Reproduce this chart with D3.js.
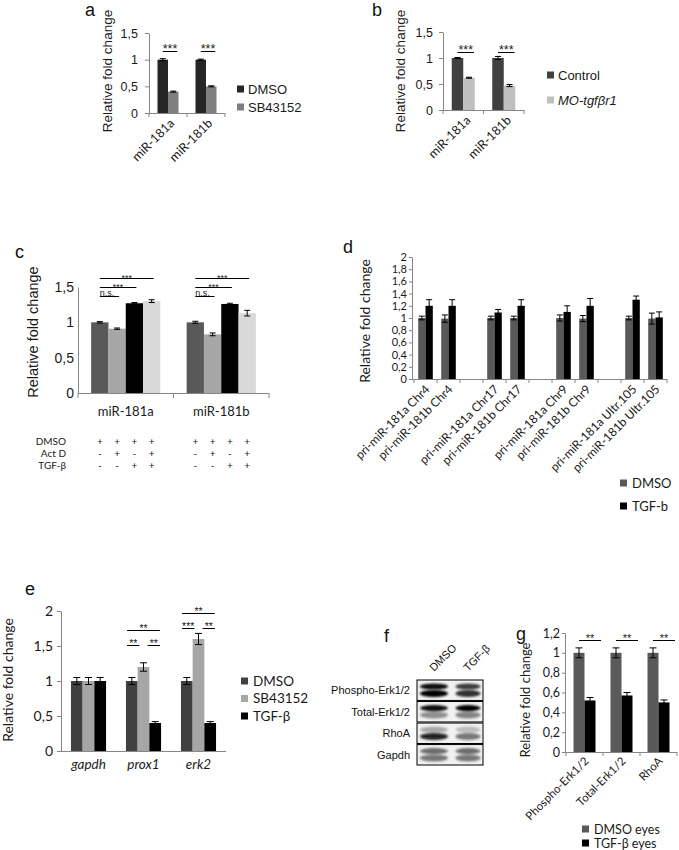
<!DOCTYPE html>
<html><head><meta charset="utf-8">
<script src="https://cdn.jsdelivr.net/npm/d3@7"></script>
<style>body{margin:0;background:#fff} svg{display:block}</style>
</head><body>
<svg id="fig" width="679" height="850"></svg>
<script>
// ---------------- data ----------------
const aCategories = ["miR-181a", "miR-181b"];
const aSeriesNames = ["DMSO", "SB43152"];
const aDMSO = [1.00, 1.00];
const aDMSOErr = [0.02, 0.01];
const aSB = [0.40, 0.50];
const aSBErr = [0.01, 0.01];
const aTicks = [0, 0.5, 1, 1.5];
const aSig = [{cat: 0, from: 0, to: 1, y: 1.16, label: "***"}, {cat: 1, from: 0, to: 1, y: 1.16, label: "***"}];

const bCategories = ["miR-181a", "miR-181b"];
const bSeriesNames = ["Control", "MO-tgfβr1"];
const bControl = [1.00, 1.00];
const bControlErr = [0.01, 0.03];
const bMO = [0.62, 0.47];
const bMOErr = [0.01, 0.02];
const bTicks = [0, 0.5, 1, 1.5];
const bSig = [{cat: 0, from: 0, to: 1, y: 1.12, label: "***"}, {cat: 1, from: 0, to: 1, y: 1.12, label: "***"}];

const cCategories = ["miR-181a", "miR-181b"];
const cDMSO = [1.00, 1.00];
const cDMSOErr = [0.01, 0.015];
const cActD = [0.91, 0.83];
const cActDErr = [0.01, 0.02];
const cTGF = [1.27, 1.26];
const cTGFErr = [0.01, 0.01];
const cActDTGF = [1.30, 1.13];
const cActDTGFErr = [0.02, 0.04];
const cTicks = [0, 0.5, 1, 1.5];
const cSig = [
  {cat: 0, from: 0, to: 3, y: 1.634, label: "***"}, {cat: 0, from: 0, to: 2, y: 1.507, label: "***"}, {cat: 0, from: 0, to: 1, y: 1.366, label: "n.s."},
  {cat: 1, from: 0, to: 3, y: 1.634, label: "***"}, {cat: 1, from: 0, to: 2, y: 1.507, label: "***"}, {cat: 1, from: 0, to: 1, y: 1.366, label: "n.s."}
];
const cTableRows = ["DMSO", "Act D", "TGF-β"];
const cTableDMSO = ["+", "+", "+", "+"];
const cTableActD = ["-", "+", "-", "+"];
const cTableTGF = ["-", "-", "+", "+"];

const dCategories = ["pri-miR-181a Chr4", "pri-miR-181b Chr4", "", "pri-miR-181a Chr17", "pri-miR-181b Chr17", "",
  "pri-miR-181a Chr9", "pri-miR-181b Chr9", "", "pri-miR-181a Ultr.105", "pri-miR-181b Ultr.105"];
const dSeriesNames = ["DMSO", "TGF-b"];
const dDMSO = [1.00, 0.99, null, 1.00, 1.00, null, 1.00, 0.99, null, 1.00, 0.99];
const dDMSOErr = [0.03, 0.06, null, 0.03, 0.03, null, 0.05, 0.05, null, 0.03, 0.09];
const dTGF = [1.20, 1.20, null, 1.09, 1.20, null, 1.10, 1.20, null, 1.30, 1.01];
const dTGFErr = [0.10, 0.10, null, 0.05, 0.10, null, 0.10, 0.12, null, 0.06, 0.09];
const dTicks = [0, 0.2, 0.4, 0.6, 0.8, 1, 1.2, 1.4, 1.6, 1.8, 2];

const eCategories = ["gapdh", "prox1", "erk2"];
const eSeriesNames = ["DMSO", "SB43152", "TGF-β"];
const eDMSO = [1.00, 1.00, 1.00];
const eDMSOErr = [0.05, 0.05, 0.05];
const eSB = [1.00, 1.20, 1.60];
const eSBErr = [0.05, 0.06, 0.08];
const eTGF = [1.00, 0.40, 0.40];
const eTGFErr = [0.05, 0.02, 0.02];
const eTicks = [0, 0.5, 1, 1.5, 2];
const eSig = [
  {cat: 1, from: 0, to: 2, y: 1.73, label: "**"}, {cat: 1, from: 0, to: 1, y: 1.51, label: "**"}, {cat: 1, from: 1, to: 2, y: 1.51, label: "**"},
  {cat: 2, from: 0, to: 2, y: 1.97, label: "**"}, {cat: 2, from: 0, to: 1, y: 1.76, label: "***"}, {cat: 2, from: 1, to: 2, y: 1.76, label: "**"}
];

const fRows = ["Phospho-Erk1/2", "Total-Erk1/2", "RhoA", "Gapdh"];
const fLanes = ["DMSO", "TGF-β"];
const fUpperBand = [[0.95, 0.75], [0.95, 1.0], [0.30, 0.22], [0.55, 0.55]];
const fLowerBand = [[1.0, 0.80], [0.40, 0.45], [0.85, 0.50], [0.50, 0.50]];

const gCategories = ["Phospho-Erk1/2", "Total-Erk1/2", "RhoA"];
const gSeriesNames = ["DMSO eyes", "TGF-β eyes"];
const gDMSO = [1.00, 1.00, 1.00];
const gDMSOErr = [0.05, 0.05, 0.05];
const gTGF = [0.52, 0.57, 0.50];
const gTGFErr = [0.03, 0.03, 0.025];
const gTicks = [0, 0.2, 0.4, 0.6, 0.8, 1, 1.2];
const gSig = [{cat: 0, from: 0, to: 1, y: 1.13, label: "**"}, {cat: 1, from: 0, to: 1, y: 1.13, label: "**"}, {cat: 2, from: 0, to: 1, y: 1.13, label: "**"}];

// ---------------- drawing ----------------
const ARIAL = "'Liberation Sans', Arial, sans-serif";
const CALI = "Lato, 'Open Sans', sans-serif";
const AX = "#868686";
const svg = d3.select("#fig");
const fmt = d3.formatLocale({decimal: ",", thousands: ".", grouping: [3], currency: ["", ""]}).format("~g");

svg.append("defs").append("filter").attr("id", "blur").attr("x", "-50%").attr("y", "-100%").attr("width", "200%").attr("height", "300%")
  .append("feGaussianBlur").attr("stdDeviation", 1.3);

function drawBars(o) {
  const g = svg.append("g");
  const y = d3.scaleLinear().domain([0, d3.max(o.ticks)]).range([o.y0, o.yTop]);
  const x = d3.scaleBand().domain(d3.range(o.categories.length)).range(o.xr);
  const n = o.series.length;
  const cx = (ci, si) => x(ci) + x.bandwidth() / 2 + (si - (n - 1) / 2) * o.bw;

  o.series.forEach((s, si) => {
    const rows = s.values.map((v, i) => ({v, e: s.errs[i], i})).filter(d => d.v != null);
    g.append("g").selectAll("rect").data(rows).join("rect")
      .attr("x", d => cx(d.i, si) - o.bw / 2).attr("width", o.bw)
      .attr("y", d => y(d.v)).attr("height", d => y(0) - y(d.v))
      .attr("fill", s.color);
    g.append("g").attr("stroke", "#000").attr("stroke-width", 1).attr("fill", "none")
      .selectAll("path").data(rows).join("path")
      .attr("d", d => {
        const c = cx(d.i, si), t = y(d.v + d.e), b = y(d.v - d.e), h = o.cap / 2;
        return `M${c},${t}V${b}M${c - h},${t}H${c + h}M${c - h},${b}H${c + h}`;
      });
  });

  // y axis
  const ya = g.append("g").attr("transform", `translate(${o.yAxisX},0)`)
    .call(d3.axisLeft(y).tickValues(o.ticks).tickFormat(fmt).tickSize(o.yTickLen).tickSizeOuter(0).tickPadding(o.yPad));
  ya.select(".domain").attr("stroke", AX);
  ya.selectAll(".tick line").attr("stroke", AX);
  ya.selectAll(".tick text").attr("font-family", o.tickFont).attr("font-size", o.tickFs).attr("fill", "#1a1a1a");

  // x axis
  const bounds = d3.range(o.categories.length + 1).map(i => i < o.categories.length ? x(i) : o.xr[1]);
  g.append("line").attr("x1", o.yAxisX).attr("x2", o.xr[1]).attr("y1", o.y0 + 0.5).attr("y2", o.y0 + 0.5).attr("stroke", AX);
  g.append("g").selectAll("line").data(bounds).join("line")
    .attr("x1", d => d).attr("x2", d => d).attr("y1", o.y0).attr("y2", o.y0 + o.xTickLen).attr("stroke", AX);

  // x labels
  const labs = o.categories.map((c, i) => ({c, i})).filter(d => d.c);
  const lt = g.append("g").selectAll("text").data(labs).join("text")
    .attr("font-family", o.labFont).attr("font-size", o.labFs).attr("fill", "#1a1a1a")
    .attr("font-style", o.labItalic ? "italic" : null).text(d => d.c);
  if (o.rot) {
    lt.attr("text-anchor", "end").attr("dy", "0.35em")
      .attr("transform", d => `translate(${x(d.i) + x.bandwidth() / 2 + o.rotDx},${o.y0 + o.rotDy}) rotate(-45)`);
  } else {
    lt.attr("text-anchor", "middle").attr("x", d => x(d.i) + x.bandwidth() / 2).attr("y", o.y0 + o.flatDy);
  }

  // significance
  (o.sig || []).forEach(s => {
    const same = o.sig.filter(t => t !== s && t.cat === s.cat && t.y === s.y);
    const sharedL = same.some(t => t.to === s.from), sharedR = same.some(t => t.from === s.to);
    const x1 = cx(s.cat, s.from) + (sharedL ? o.sigIn : -o.sigL);
    const x2 = cx(s.cat, s.to) + (sharedR ? -o.sigIn : o.sigR);
    const ly = Math.round(y(s.y)) + 0.5;
    g.append("line").attr("x1", x1).attr("x2", x2).attr("y1", ly).attr("y2", ly).attr("stroke", "#000").attr("stroke-width", 1);
    const star = s.label.includes("*");
    g.append("text").attr("x", star ? (x1 + x2) / 2 : x1).attr("y", ly + (star ? o.starDy : o.nsDy))
      .attr("text-anchor", star ? "middle" : "start")
      .attr("font-family", ARIAL).attr("font-size", star ? o.starFs : o.nsFs).attr("fill", "#1a1a1a").text(s.label);
  });

  // y title
  g.append("text").attr("transform", `translate(${o.title[0]},${o.title[1]}) rotate(-90)`)
    .attr("text-anchor", "middle").attr("dy", "0.35em").attr("font-family", o.titleFont || ARIAL)
    .attr("font-size", o.titleFs).attr("fill", "#1a1a1a").text(o.titleText || "Relative fold change");

  // legend
  if (o.legend) {
    const L = o.legend;
    o.series.forEach((s, i) => {
      const ly = L.y + i * L.dy;
      g.append("rect").attr("x", L.x).attr("y", ly - L.sq / 2).attr("width", L.sq).attr("height", L.sq).attr("fill", s.color);
      g.append("text").attr("x", L.x + L.sq + L.gap).attr("y", ly).attr("dy", "0.36em")
        .attr("font-family", L.font).attr("font-size", L.fs).attr("fill", "#1a1a1a")
        .attr("font-style", s.italic ? "italic" : null).text(s.name);
    });
  }
  return {x, y, cx};
}

function panelLabel(t, x, y) {
  svg.append("text").attr("x", x).attr("y", y).attr("font-family", ARIAL).attr("font-size", 18).attr("fill", "#111").text(t);
}

// panel a
drawBars({
  categories: aCategories, ticks: aTicks, y0: 113, yTop: 33, xr: [149, 225], yAxisX: 149, bw: 10.5, cap: 6,
  series: [{name: aSeriesNames[0], values: aDMSO, errs: aDMSOErr, color: "#262626"},
           {name: aSeriesNames[1], values: aSB, errs: aSBErr, color: "#7f7f7f"}],
  yTickLen: 4, yPad: 7, tickFont: ARIAL, tickFs: 12.5, xTickLen: 4,
  rot: true, rotDx: 4, rotDy: 8, labFont: CALI, labFs: 12.5,
  sig: aSig, sigL: 0, sigR: 4, sigIn: 0, starDy: 1, nsDy: -1, starFs: 12.5, nsFs: 10,
  title: [107, 71], titleFs: 13.5,
  legend: {x: 237, y: 89, dy: 18, sq: 7, gap: 4, font: ARIAL, fs: 13}
});
panelLabel("a", 85, 16);

// panel b
drawBars({
  categories: bCategories, ticks: bTicks, y0: 110, yTop: 32, xr: [443, 524], yAxisX: 443, bw: 11.5, cap: 6,
  series: [{name: bSeriesNames[0], values: bControl, errs: bControlErr, color: "#404040"},
           {name: bSeriesNames[1], values: bMO, errs: bMOErr, color: "#bfbfbf", italic: true}],
  yTickLen: 4, yPad: 6, tickFont: ARIAL, tickFs: 12.5, xTickLen: 4,
  rot: true, rotDx: 5, rotDy: 8, labFont: CALI, labFs: 12.5,
  sig: bSig, sigL: 0, sigR: 5, sigIn: 0, starDy: 1, nsDy: -1, starFs: 12.5, nsFs: 10,
  title: [400, 71], titleFs: 13.5,
  legend: {x: 547, y: 75, dy: 25, sq: 7, gap: 4, font: ARIAL, fs: 13}
});
panelLabel("b", 372, 16);

// panel c
const cP = drawBars({
  categories: cCategories, ticks: cTicks, y0: 393, yTop: 287, xr: [78, 269], yAxisX: 78, bw: 17.3, cap: 6,
  series: [{values: cDMSO, errs: cDMSOErr, color: "#595959"}, {values: cActD, errs: cActDErr, color: "#a6a6a6"},
           {values: cTGF, errs: cTGFErr, color: "#000000"}, {values: cActDTGF, errs: cActDTGFErr, color: "#d9d9d9"}],
  yTickLen: 0, yPad: 4, tickFont: ARIAL, tickFs: 14, xTickLen: 5,
  rot: false, flatDy: 23, labFont: CALI, labFs: 13,
  sig: cSig, sigL: 0, sigR: 2, sigIn: 0, starDy: 2, nsDy: -1, starFs: 9, nsFs: 9,
  title: [33, 332], titleFs: 14.5
});
panelLabel("c", 15, 258);
[cTableDMSO, cTableActD, cTableTGF].forEach((vals, ri) => {
  const by = 393 + 52 + ri * 12;
  svg.append("text").attr("x", 66).attr("y", by).attr("text-anchor", "end").attr("font-family", CALI).attr("font-size", 10)
    .attr("fill", "#1a1a1a").text(cTableRows[ri]);
  cCategories.forEach((c, ci) => {
    vals.forEach((v, si) => {
      svg.append("text").attr("x", cP.cx(ci, si)).attr("y", by).attr("text-anchor", "middle")
        .attr("font-family", CALI).attr("font-size", 10).attr("fill", "#1a1a1a").text(v);
    });
  });
});

// panel d
drawBars({
  categories: dCategories, ticks: dTicks, y0: 379, yTop: 257, xr: [414, 667], yAxisX: 412, bw: 7.3, cap: 6,
  series: [{name: dSeriesNames[0], values: dDMSO, errs: dDMSOErr, color: "#595959"},
           {name: dSeriesNames[1], values: dTGF, errs: dTGFErr, color: "#000000"}],
  yTickLen: 3, yPad: 2, tickFont: CALI, tickFs: 11, xTickLen: 4,
  rot: true, rotDx: 2, rotDy: 8, labFont: CALI, labFs: 12,
  title: [365, 321], titleFs: 14, titleFont: CALI,
  legend: {x: 620, y: 483, dy: 23, sq: 7, gap: 5, font: CALI, fs: 13}
});
panelLabel("d", 343, 253);

// panel e
drawBars({
  categories: eCategories, ticks: eTicks, y0: 751, yTop: 611, xr: [61, 226], yAxisX: 61, bw: 11.7, cap: 7,
  series: [{name: eSeriesNames[0], values: eDMSO, errs: eDMSOErr, color: "#404040"},
           {name: eSeriesNames[1], values: eSB, errs: eSBErr, color: "#a6a6a6"},
           {name: eSeriesNames[2], values: eTGF, errs: eTGFErr, color: "#000000"}],
  yTickLen: 4, yPad: 4, tickFont: CALI, tickFs: 14, xTickLen: 0,
  rot: false, flatDy: 18, labFont: CALI, labFs: 13.5, labItalic: true,
  sig: eSig, sigL: 4.7, sigR: 4.7, sigIn: 4.1, starDy: 1, nsDy: -1, starFs: 10.5, nsFs: 10,
  title: [8, 680], titleFs: 14, titleFont: CALI,
  legend: {x: 241, y: 681, dy: 17.5, sq: 7, gap: 5, font: CALI, fs: 13.5}
});
panelLabel("e", 25, 595);

// panel f (western blot)
{
  const g = svg.append("g");
  const lx = d3.scaleBand().domain(fLanes).range([417, 485]);
  const ry = d3.scaleBand().domain(fRows).range([680, 765]).paddingInner(0.05);
  fRows.forEach((r, ri) => {
    const top = ry(r), h = ry.bandwidth();
    g.append("rect").attr("x", 417).attr("y", top).attr("width", 66).attr("height", h).attr("fill", "#f1f1f1");
    fLanes.forEach((l, li) => {
      const c = lx(l) + lx.bandwidth() / 2;
      const w = li === 0 ? 14 : 12.5;
      g.append("ellipse").attr("cx", c).attr("cy", top + h * 0.32).attr("rx", w).attr("ry", h * 0.15)
        .attr("fill", "#000").attr("opacity", fUpperBand[ri][li]).attr("filter", "url(#blur)");
      g.append("ellipse").attr("cx", c).attr("cy", top + h * 0.66).attr("rx", w).attr("ry", h * 0.17)
        .attr("fill", "#000").attr("opacity", fLowerBand[ri][li]).attr("filter", "url(#blur)");
    });
    g.append("rect").attr("x", 417).attr("y", top).attr("width", 66).attr("height", h)
      .attr("fill", "none").attr("stroke", "#000").attr("stroke-width", 1);
    g.append("text").attr("x", 410).attr("y", top + h / 2).attr("dy", "0.35em").attr("text-anchor", "end")
      .attr("font-family", ARIAL).attr("font-size", 11).attr("fill", "#111").text(r);
  });
  fLanes.forEach(l => {
    const c = lx(l) + lx.bandwidth() / 2;
    g.append("text").attr("transform", `translate(${c},${672}) rotate(-45)`).attr("font-family", ARIAL)
      .attr("font-size", 11).attr("fill", "#111").text(l);
  });
}
panelLabel("f", 384, 642);

// panel g
drawBars({
  categories: gCategories, ticks: gTicks, y0: 752, yTop: 633, xr: [566, 677], yAxisX: 565, bw: 11, cap: 7,
  series: [{name: gSeriesNames[0], values: gDMSO, errs: gDMSOErr, color: "#595959"},
           {name: gSeriesNames[1], values: gTGF, errs: gTGFErr, color: "#000000"}],
  yTickLen: 3, yPad: 2, tickFont: CALI, tickFs: 12.5, xTickLen: 4,
  rot: true, rotDx: 2, rotDy: 7, labFont: CALI, labFs: 11.5,
  sig: gSig, sigL: 0, sigR: 11, sigIn: 0, starDy: 1, nsDy: -1, starFs: 11, nsFs: 10,
  title: [525, 700], titleFs: 13, titleFont: CALI, titleText: "Relative  fold change",
  legend: {x: 582, y: 829, dy: 14, sq: 7, gap: 5, font: CALI, fs: 12.5}
});
panelLabel("g", 516, 640);
</script>
</body></html>
